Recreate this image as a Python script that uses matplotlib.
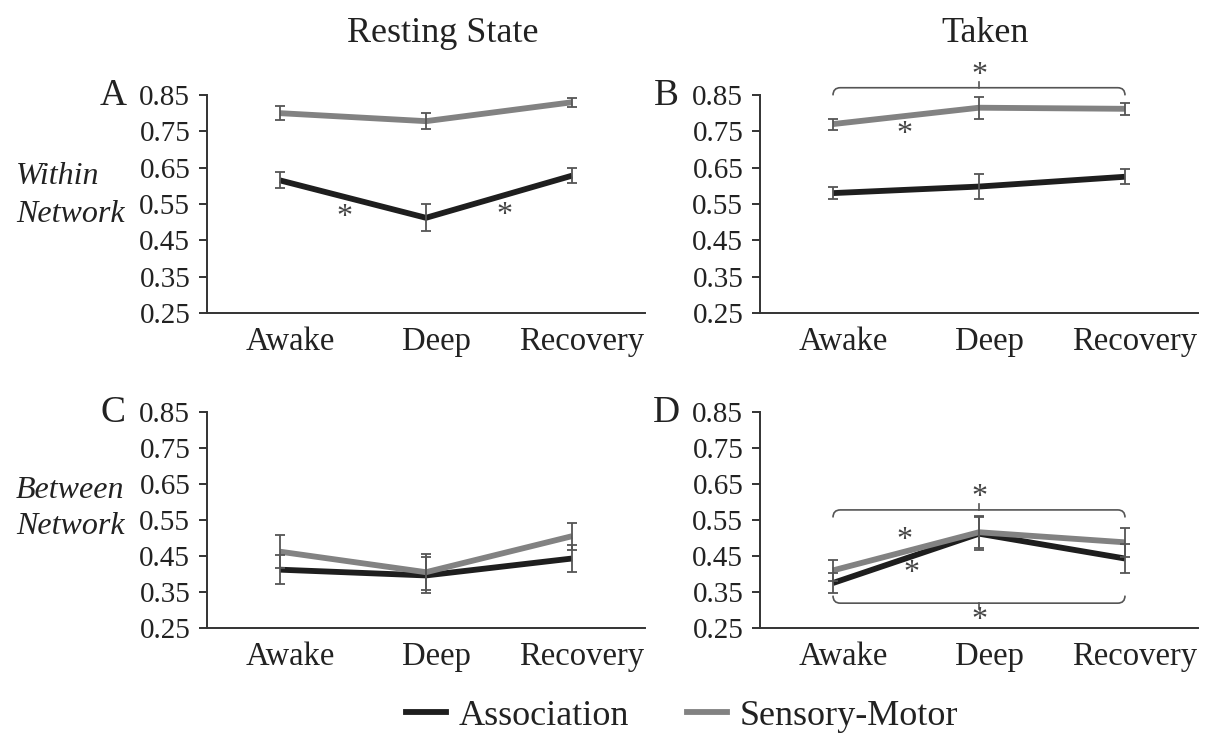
import matplotlib
matplotlib.use('Agg')
import matplotlib.pyplot as plt
from matplotlib.path import Path
from matplotlib.patches import PathPatch
from matplotlib.lines import Line2D
from matplotlib.transforms import ScaledTranslation
import numpy as np

plt.rcParams['font.family'] = ['Liberation Serif', 'DejaVu Serif']

# categories and series
cats = ['Awake', 'Deep', 'Recovery']
yticks = [0.25, 0.35, 0.45, 0.55, 0.65, 0.75, 0.85]

rest_within_assoc = [0.615, 0.512, 0.628]
rest_within_assoc_err = [0.022, 0.037, 0.020]
rest_within_sm = [0.800, 0.778, 0.830]
rest_within_sm_err = [0.020, 0.022, 0.012]

taken_within_assoc = [0.580, 0.598, 0.625]
taken_within_assoc_err = [0.016, 0.034, 0.020]
taken_within_sm = [0.770, 0.815, 0.812]
taken_within_sm_err = [0.015, 0.030, 0.017]

rest_between_assoc = [0.412, 0.396, 0.443]
rest_between_assoc_err = [0.040, 0.050, 0.037]
rest_between_sm = [0.462, 0.405, 0.505]
rest_between_sm_err = [0.045, 0.050, 0.037]

taken_between_assoc = [0.375, 0.512, 0.443]
taken_between_assoc_err = [0.028, 0.045, 0.040]
taken_between_sm = [0.410, 0.516, 0.488]
taken_between_sm_err = [0.030, 0.045, 0.040]

BLACK = '#1e1e1e'
GREY = '#828282'
ERRC = '#555555'
AXC = '#333333'
STARC = '#444444'

W, H = 1206, 737
fig = plt.figure(figsize=(W/100, H/100), dpi=100)

def px_axes(l, t, r, b):
    return fig.add_axes([l/W, 1-b/H, (r-l)/W, (b-t)/H])

def style(ax):
    x = np.arange(len(cats))
    ax.set_xlim(-0.5, 2.5)
    ax.set_ylim(0.25, 0.85)
    for s in ['top', 'right']:
        ax.spines[s].set_visible(False)
    for s in ['left', 'bottom']:
        ax.spines[s].set_color(AXC)
        ax.spines[s].set_linewidth(1.4)
    ax.set_yticks(yticks)
    ax.set_yticklabels(['%4.2f' % v for v in yticks])
    ax.set_xticks(x)
    ax.set_xticklabels(cats)
    ax.tick_params(axis='y', direction='out', length=6, width=1.4,
                   color=AXC, labelsize=21, pad=6, labelcolor='#222222')
    ax.tick_params(axis='x', length=0, labelsize=23.5, pad=10,
                   labelcolor='#222222')
    # category labels sit slightly right of the points in the original
    shift = ScaledTranslation(10/100, 0, fig.dpi_scale_trans)
    for lab in ax.get_xticklabels():
        lab.set_transform(lab.get_transform() + shift)
    ax.set_facecolor('none')

def series(ax, assoc, assoc_err, sm, sm_err):
    x = np.arange(len(cats))
    ax.plot(x, assoc, color=BLACK, lw=4.2, solid_capstyle='butt', zorder=2)
    ax.plot(x, sm, color=GREY, lw=4.2, solid_capstyle='butt', zorder=3)
    ax.errorbar(x, assoc, yerr=assoc_err, fmt='none', ecolor=ERRC,
                elinewidth=1.3, capsize=3.5, capthick=1.3, zorder=4)
    ax.errorbar(x, sm, yerr=sm_err, fmt='none', ecolor=ERRC,
                elinewidth=1.3, capsize=3.5, capthick=1.3, zorder=4)

def star(ax, x, y):
    ax.text(x, y, '*', fontsize=23, color=STARC, ha='center', va='center',
            clip_on=False, zorder=5)

def bracket(ax, x0, x1, y, up=True):
    # bracket spanning x0..x1, ends bending toward the data
    rx, ry, tick = 0.05, 0.021, 0.016
    s = -1 if up else 1
    xm = 0.5*(x0+x1)
    verts = [(x0, y + s*ry), (x0, y), (x0+rx, y),
             (x1-rx, y),
             (x1, y), (x1, y + s*ry)]
    codes = [Path.MOVETO, Path.CURVE3, Path.CURVE3,
             Path.LINETO, Path.CURVE3, Path.CURVE3]
    ax.add_patch(PathPatch(Path(verts, codes), fill=False, ec='#555555',
                           lw=1.2, clip_on=False, zorder=5))
    ax.plot([xm, xm], [y, y - s*tick], color='#555555', lw=1.2,
            clip_on=False, zorder=5)

axA = px_axes(207, 95, 645, 313)
axB = px_axes(760, 95, 1198, 313)
axC = px_axes(207, 412, 645, 628)
axD = px_axes(760, 412, 1198, 628)

for ax in [axA, axB, axC, axD]:
    style(ax)

series(axA, rest_within_assoc, rest_within_assoc_err,
       rest_within_sm, rest_within_sm_err)
series(axB, taken_within_assoc, taken_within_assoc_err,
       taken_within_sm, taken_within_sm_err)
series(axC, rest_between_assoc, rest_between_assoc_err,
       rest_between_sm, rest_between_sm_err)
series(axD, taken_between_assoc, taken_between_assoc_err,
       taken_between_sm, taken_between_sm_err)

# significance marks
star(axA, 0.44, 0.512)
star(axA, 1.54, 0.517)

bracket(axB, 0, 2, 0.870, up=True)
star(axB, 1.0, 0.905)
star(axB, 0.49, 0.742)

bracket(axD, 0, 2, 0.578, up=True)
bracket(axD, 0, 2, 0.319, up=False)
star(axD, 1.0, 0.612)
star(axD, 1.0, 0.270)
star(axD, 0.49, 0.492)
star(axD, 0.54, 0.402)

# titles, panel letters, row labels
fig.text(443/W, 1-33/H, 'Resting State', fontsize=26, ha='center',
         va='center', color='#222222')
fig.text(985/W, 1-33/H, 'Taken', fontsize=26, ha='center',
         va='center', color='#222222')
for lab, x, y in [('A', 113, 96), ('B', 666, 96), ('C', 113, 413), ('D', 666, 413)]:
    fig.text(x/W, 1-y/H, lab, fontsize=27, ha='center', va='center',
             color='#222222')
for txt, y in [('Within', 177), ('Network', 215), ('Between', 490), ('Network', 527)]:
    fig.text(16/W, 1-y/H, txt, fontsize=23, style='italic', ha='left',
             va='center', color='#222222')

handles = [Line2D([], [], color=BLACK, lw=4.2),
           Line2D([], [], color=GREY, lw=4.2)]
fig.legend(handles, ['Association', 'Sensory-Motor'], loc='center',
           bbox_to_anchor=(682/W, 1-716/H), ncol=2, frameon=False,
           fontsize=26, handlelength=1.1, handletextpad=0.35,
           columnspacing=1.6, labelcolor='#222222')

fig.savefig('out.png', dpi=100)
